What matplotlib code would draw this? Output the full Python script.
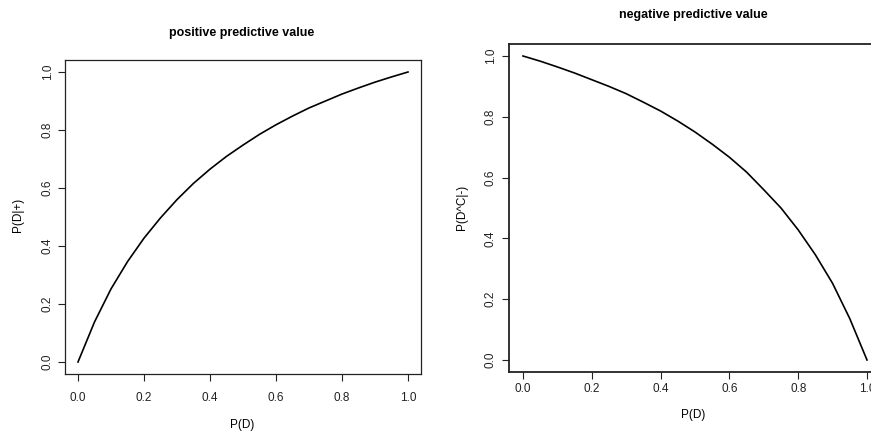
import matplotlib
matplotlib.use("Agg")
import matplotlib.pyplot as plt

# data
p_d = [0.0, 0.05, 0.10, 0.15, 0.20, 0.25, 0.30, 0.35, 0.40, 0.45, 0.50,
       0.55, 0.60, 0.65, 0.70, 0.75, 0.80, 0.85, 0.90, 0.95, 1.0]
ppv = [0.0, 0.138, 0.252, 0.346, 0.427, 0.497, 0.56, 0.616, 0.665, 0.709, 0.748,
       0.785, 0.818, 0.848, 0.876, 0.90, 0.924, 0.945, 0.965, 0.983, 1.0]
npv = [1.0, 0.983, 0.964, 0.944, 0.922, 0.90, 0.876, 0.848, 0.819, 0.786, 0.75,
       0.71, 0.667, 0.618, 0.56, 0.50, 0.428, 0.346, 0.252, 0.136, 0.0]
ticks = [0.0, 0.2, 0.4, 0.6, 0.8, 1.0]
tick_labels = ["0.0", "0.2", "0.4", "0.6", "0.8", "1.0"]

W, H = 871, 434
plt.rcParams['font.family'] = ['Liberation Sans', 'DejaVu Sans']
fig = plt.figure(figsize=(W / 100, H / 100), dpi=100)
fig.patch.set_facecolor('white')


def box(x0, x1, y1, y0, pad=0.04):
    # x0,x1: pixel positions of data 0 and 1; y1,y0: pixel of data 1 and 0
    sx = (x1 - x0) * pad
    sy = (y0 - y1) * pad
    left = x0 - sx
    right = x1 + sx
    top = y1 - sy
    bottom = y0 + sy
    return [left / W, 1 - bottom / H, (right - left) / W, (bottom - top) / H]


def style(ax, lw_box, xpad, ypad):
    ax.set_xlim(-0.04, 1.04)
    ax.set_ylim(-0.04, 1.04)
    ax.set_xticks(ticks)
    ax.set_xticklabels(tick_labels)
    ax.set_yticks(ticks)
    ax.set_yticklabels(tick_labels, rotation=90, va='center')
    ax.tick_params(direction='out', length=5, width=0.8, labelsize=8.5,
                   colors='#222222')
    ax.tick_params(axis='x', pad=xpad)
    ax.tick_params(axis='y', pad=ypad)
    for s in ax.spines.values():
        s.set_linewidth(lw_box)
        s.set_color('#222222')


# left panel
ax1 = fig.add_axes(box(78, 408, 72, 362))
ax1.plot(p_d, ppv, color='black', lw=1.2)
style(ax1, 0.9, 8, 3)
fig.text(242 / W, 1 - 33 / H, "positive predictive value", ha='center',
         va='center', fontsize=9, fontweight='bold')
fig.text(242 / W, 1 - 425 / H, "P(D)", ha='center', va='center', fontsize=8.5)
fig.text(18 / W, 1 - 215 / H, "P(D|+)", ha='center', va='center',
         fontsize=8.5, rotation=90)

# right panel
ax2 = fig.add_axes(box(523, 867, 56, 360))
ax2.plot(p_d, npv, color='black', lw=1.2)
style(ax2, 1.3, 3, 4)
fig.text(693 / W, 1 - 15 / H, "negative predictive value", ha='center',
         va='center', fontsize=9, fontweight='bold')
fig.text(693 / W, 1 - 415 / H, "P(D)", ha='center', va='center', fontsize=8.5)
fig.text(462 / W, 1 - 207 / H, "P(D^C|-)", ha='center', va='center',
         fontsize=8.5, rotation=90)

fig.savefig("out.png", dpi=100, facecolor='white')
